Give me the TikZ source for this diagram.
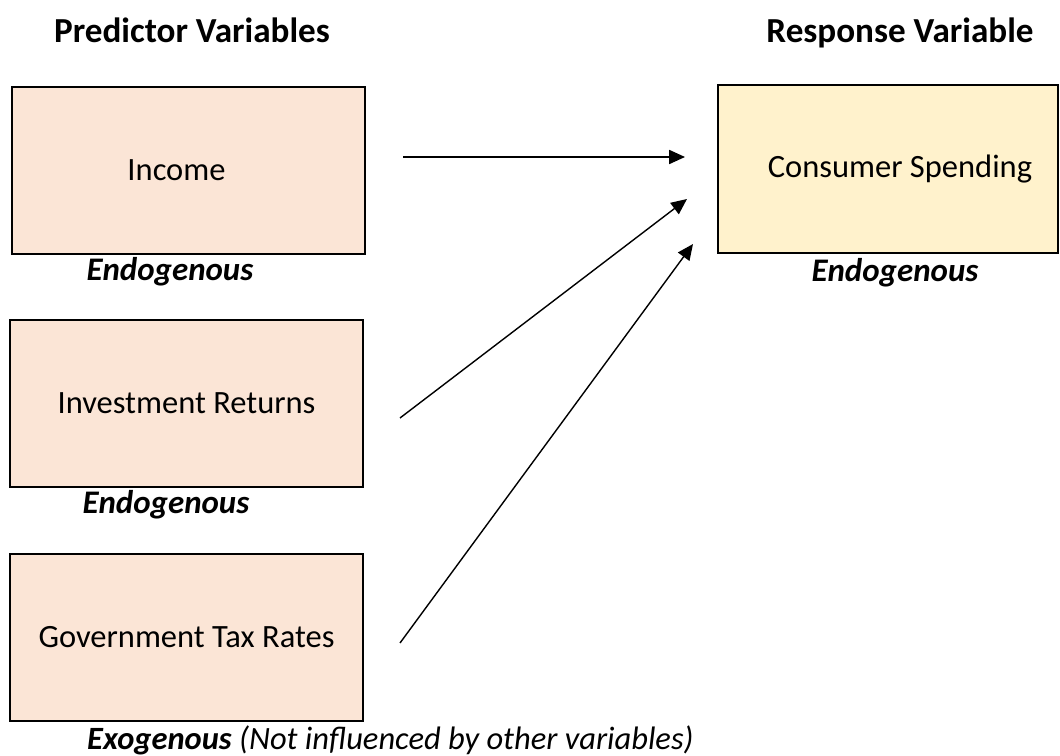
\documentclass[tikz,border=0pt]{standalone}
\usepackage{fontspec}
\setmainfont{Carlito}
\usetikzlibrary{arrows.meta}
\usepackage{xcolor}
\definecolor{peach}{HTML}{FBE5D6}
\definecolor{cream}{HTML}{FFF2CC}

\begin{document}
\begin{tikzpicture}[x=0.02cm,y=-0.02cm,
  >={Triangle[length=9pt,width=8pt]},
  predbox/.style={draw,line width=1pt,fill=peach,minimum width=7.06cm,minimum height=3.34cm,font=\fontsize{18.5}{22}\selectfont},
  respbox/.style={draw,line width=1pt,fill=cream,minimum width=6.8cm,minimum height=3.36cm,font=\fontsize{18.5}{22}\selectfont},
  head/.style={font=\fontsize{20}{24}\selectfont\bfseries},
  kind/.style={font=\fontsize{18.75}{22}\selectfont\bfseries\itshape}]

  \useasboundingbox (0,0) rectangle (1060,756);

  \node[head] (PrVa) at (192,30) {Predictor Variables};
  \node[head] (ReVa) at (900,33) {Response Variable};

  \node[predbox] (In) at (188.5,170.5) {\hspace*{-0.48cm}Income};
  \node[predbox] (InRe) at (186.5,403.5) {Investment Returns};
  \node[predbox] (GoTa) at (186.5,637.5) {Government Tax Rates};
  \node[respbox] (CoSp) at (888,169) {\hspace*{0.48cm}Consumer Spending};

  \node[kind] (InEn) at (170,272) {Endogenous};
  \node[kind] (InReEn) at (166,505) {Endogenous};
  \node[kind] (CoSpEn) at (895,273) {Endogenous};
  \node[anchor=west,font=\fontsize{18.5}{22}\selectfont\itshape] (GoTaEx) at (81,740) {\textbf{Exogenous} (Not influenced by other variables)};

  % free arrow ends
  \coordinate (InOut) at (403,157);
  \coordinate (InReOut) at (400,418);
  \coordinate (GoTaOut) at (400,643);
  \coordinate (CoSpA) at (685,157);
  \coordinate (CoSpB) at (687,199);
  \coordinate (CoSpC) at (693,244);

  \draw[->,draw=black,line width=0.8pt] (InOut) to (CoSpA);
  \draw[->,draw=black,line width=0.8pt] (InReOut) to (CoSpB);
  \draw[->,draw=black,line width=0.8pt] (GoTaOut) to (CoSpC);

\end{tikzpicture}
\end{document}
